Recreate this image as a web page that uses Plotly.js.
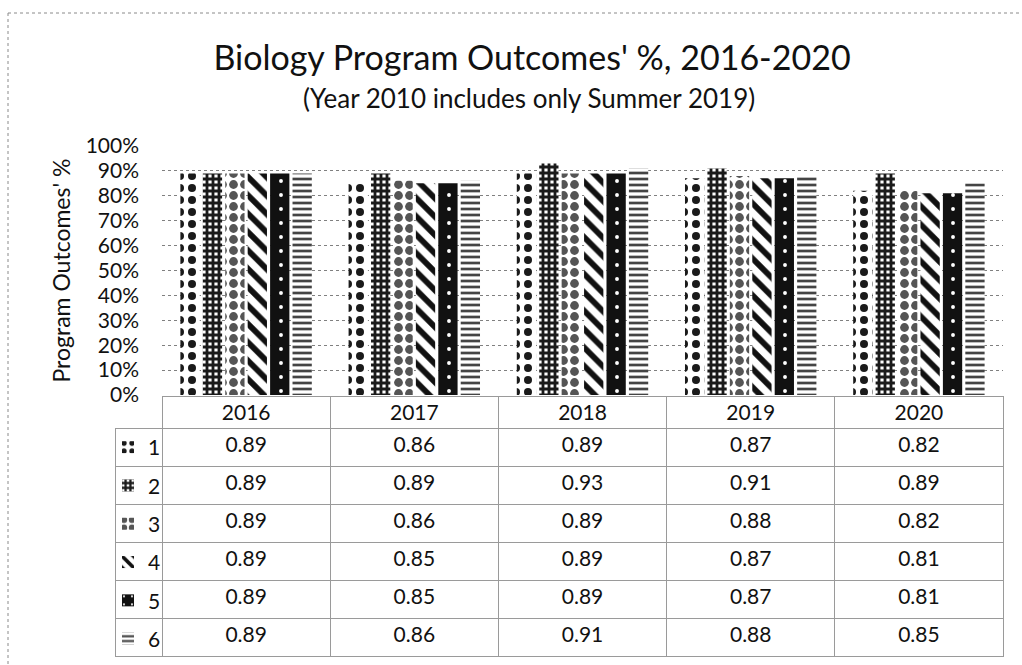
<!DOCTYPE html>
<html>
<head>
<meta charset="utf-8">
<script src="https://cdn.plot.ly/plotly-3.0.1.min.js"></script>
<style>
  html, body { margin: 0; padding: 0; background: #ffffff; }
  #chart { width: 1022px; height: 665px; }
</style>
</head>
<body>
<div id="chart"></div>
<script>
// ---- data ----
const years = ['2016', '2017', '2018', '2019', '2020'];
const seriesNames = ['1', '2', '3', '4', '5', '6'];
const outcome1 = [0.89, 0.86, 0.89, 0.87, 0.82];
const outcome2 = [0.89, 0.89, 0.93, 0.91, 0.89];
const outcome3 = [0.89, 0.86, 0.89, 0.88, 0.82];
const outcome4 = [0.89, 0.85, 0.89, 0.87, 0.81];
const outcome5 = [0.89, 0.85, 0.89, 0.87, 0.81];
const outcome6 = [0.89, 0.86, 0.91, 0.88, 0.85];
const allSeries = [outcome1, outcome2, outcome3, outcome4, outcome5, outcome6];

// ---- styles (patterns per series) ----
const patterns = [
  {shape: '.', fgcolor: '#1a1a1a', bgcolor: '#ffffff', size: 12, solidity: 0.35},
  {shape: '+', fgcolor: '#1a1a1a', bgcolor: '#ffffff', size: 6, solidity: 0.72},
  {shape: '.', fgcolor: '#555555', bgcolor: '#ffffff', size: 11, solidity: 0.5},
  {shape: '\\', fgcolor: '#111111', bgcolor: '#ffffff', size: 13, solidity: 0.45},
  {shape: '.', fgcolor: '#ffffff', bgcolor: '#111111', size: 14, solidity: 0.06},
  {shape: '-', fgcolor: '#444444', bgcolor: '#ffffff', size: 6, solidity: 0.45}
];

const W = 1022, H = 665;
const px = v => v / W;
const py = v => 1 - v / H;

const FONT = 'Lato, "Open Sans", sans-serif';

const traces = allSeries.map((vals, i) => ({
  type: 'bar',
  name: seriesNames[i],
  legendgroup: 'g' + i,
  x: years,
  y: vals,
  marker: {
    color: patterns[i].bgcolor,
    line: {width: 0},
    pattern: patterns[i]
  },
  hoverinfo: 'skip'
}));

// table built from the same arrays
const headerVals = [''].concat(years);
const cellCols = [seriesNames.map(() => '')];
years.forEach((y, j) => {
  cellCols.push(allSeries.map(s => s[j].toFixed(2)));
});

traces.push({
  type: 'table',
  domain: {x: [px(115), px(1003)], y: [py(660), py(396)]},
  columnwidth: [47, 168, 168, 168, 168, 168],
  header: {
    values: headerVals,
    height: 32,
    align: 'center',
    fill: {color: ['rgba(0,0,0,0)', '#ffffff', '#ffffff', '#ffffff', '#ffffff', '#ffffff']},
    line: {color: ['rgba(0,0,0,0)', '#9a9a9a', '#9a9a9a', '#9a9a9a', '#9a9a9a', '#9a9a9a'], width: 1},
    font: {family: FONT, size: 21, color: '#111111'}
  },
  cells: {
    values: cellCols,
    height: 38,
    align: 'center',
    fill: {color: '#ffffff'},
    line: {color: '#9a9a9a', width: 1},
    font: {family: FONT, size: 21, color: '#111111'}
  }
});

const layout = {
  width: W,
  height: H,
  margin: {l: 0, r: 0, t: 0, b: 0},
  paper_bgcolor: '#ffffff',
  plot_bgcolor: '#ffffff',
  font: {family: FONT, color: '#111111'},
  title: {
    text: "Biology Program Outcomes' %, 2016-2020",
    font: {family: FONT, size: 34, color: '#111111'},
    x: px(532), xanchor: 'center',
    y: py(58), yanchor: 'middle'
  },
  annotations: [{
    text: '(Year 2010 includes only Summer 2019)',
    xref: 'paper', yref: 'paper',
    x: px(529), y: py(98), xanchor: 'center', yanchor: 'middle',
    showarrow: false,
    font: {family: FONT, size: 26, color: '#111111'}
  }],
  barmode: 'group',
  bargap: 0.2,
  bargroupgap: 0.14,
  showlegend: true,
  legend: {
    x: px(108), xanchor: 'left',
    y: py(427), yanchor: 'top',
    bgcolor: 'rgba(0,0,0,0)',
    font: {family: FONT, size: 21, color: '#111111'},
    tracegroupgap: 8,
    itemwidth: 30
  },
  xaxis: {
    domain: [px(162), px(1003)],
    showticklabels: false,
    ticks: '',
    showgrid: false,
    zeroline: false,
    showline: false,
    fixedrange: true
  },
  yaxis: {
    domain: [py(395), py(146)],
    range: [0, 1],
    tickvals: [0, 0.1, 0.2, 0.3, 0.4, 0.5, 0.6, 0.7, 0.8, 0.9, 1.0],
    tickformat: '.0%',
    tickfont: {family: FONT, size: 21, color: '#111111'},
    ticklabelstandoff: 22,
    showgrid: true,
    gridcolor: '#808080',
    griddash: 'dot',
    gridwidth: 1,
    zeroline: false,
    showline: false,
    ticks: '',
    automargin: false,
    fixedrange: true,
    title: {
      text: "Program Outcomes' %",
      font: {family: FONT, size: 23, color: '#111111'},
      standoff: 8
    }
  },
  shapes: [
    {type: 'line', xref: 'paper', yref: 'paper', x0: px(8), x1: 1, y0: py(13), y1: py(13),
     line: {color: '#8a8a8a', width: 1, dash: 'dot'}},
    {type: 'line', xref: 'paper', yref: 'paper', x0: px(8), x1: px(8), y0: py(13), y1: 0,
     line: {color: '#8a8a8a', width: 1, dash: 'dot'}}
  ]
};

Plotly.newPlot('chart', traces, layout, {displayModeBar: false, staticPlot: true});
</script>
</body>
</html>
